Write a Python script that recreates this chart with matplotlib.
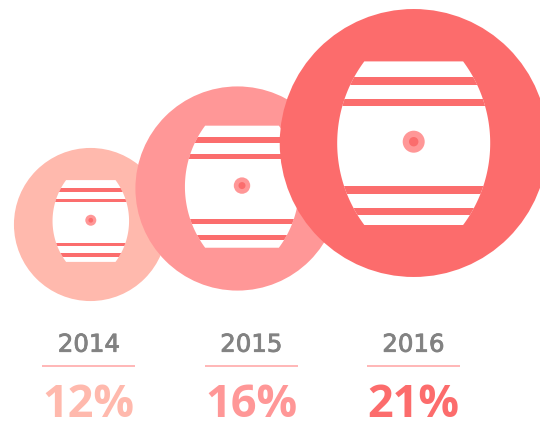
import numpy as np
import matplotlib
matplotlib.use('Agg')
import matplotlib.pyplot as plt
import matplotlib.patheffects as pe
from matplotlib.patches import Circle, Polygon, Rectangle

years = ['2014', '2015', '2016']
shares = [12, 16, 21]

colors = ['#ffb9ad', '#ff9797', '#fc6c6c']
stripe_color = '#fb6d6d'
dot_color = '#ff9797'

# pixel layout of each badge
px_per_pct = 6.38
circle_x = [90.5, 237.5, 413.7]
circle_y = [224.5, 188.5, 143.0]
barrel_x = [90.8, 242.0, 413.7]
barrel_y = [221.0, 186.7, 143.2]
barrel_scale = [0.5, 0.746, 1.0]
text_x = [88.8, 251.2, 413.3]

# barrel offsets for the biggest one
half_h = 81.8
half_w = 76.5
side_r = 137.0
stripes = [(-66.2, -58.5), (-44.5, -37.2), (43.1, 50.5), (64.8, 72.1)]

fig = plt.figure(figsize=(5.4, 4.22), dpi=100)
ax = fig.add_axes([0, 0, 1, 1])
ax.set_xlim(0, 540)
ax.set_ylim(422, 0)
ax.axis('off')

for i in range(3):
    z = 2 + i * 5
    s = barrel_scale[i]
    bx, by = barrel_x[i], barrel_y[i]
    ax.add_patch(Circle((circle_x[i], circle_y[i]), shares[i] * px_per_pct,
                        fc=colors[i], ec='none', zorder=z))

    # white barrel, two arcs cut flat at top and bottom
    yy = np.linspace(-half_h, half_h, 80)
    xx = np.sqrt(side_r ** 2 - yy ** 2) + half_w - side_r
    pts = np.concatenate([np.column_stack([xx, yy]), np.column_stack([-xx[::-1], yy[::-1]])])
    barrel = Polygon(pts * s + [bx, by], fc='white', ec='none', zorder=z + 1)
    ax.add_patch(barrel)

    for y0, y1 in stripes:
        r = Rectangle((bx - half_w * s, by + y0 * s), 2 * half_w * s, (y1 - y0) * s,
                      fc=stripe_color, ec='none', zorder=z + 2)
        ax.add_patch(r)
        r.set_clip_path(barrel)

    ax.add_patch(Circle((bx, by - 1.5 * s), 11 * s, fc=dot_color, ec='none', zorder=z + 3))
    ax.add_patch(Circle((bx, by - 1.5 * s), 4.7 * s, fc=stripe_color, ec='none', zorder=z + 4))

    # labels under the badge
    ax.text(text_x[i], 351.7, years[i], ha='center', va='baseline', color='#828282',
            family='DejaVu Sans', fontsize=17.6, zorder=30,
            path_effects=[pe.withStroke(linewidth=0.6, foreground='#828282')])
    ax.plot([text_x[i] - 46.5, text_x[i] + 46.5], [365.7, 365.7], color='#ffa3a3', lw=1.1,
            solid_capstyle='butt', zorder=30)
    ax.text(text_x[i], 417, f'{shares[i]}%', ha='center', va='baseline', color=colors[i],
            family='Open Sans', weight='bold', fontsize=32.5, zorder=30)

fig.savefig('out.png', dpi=100)
